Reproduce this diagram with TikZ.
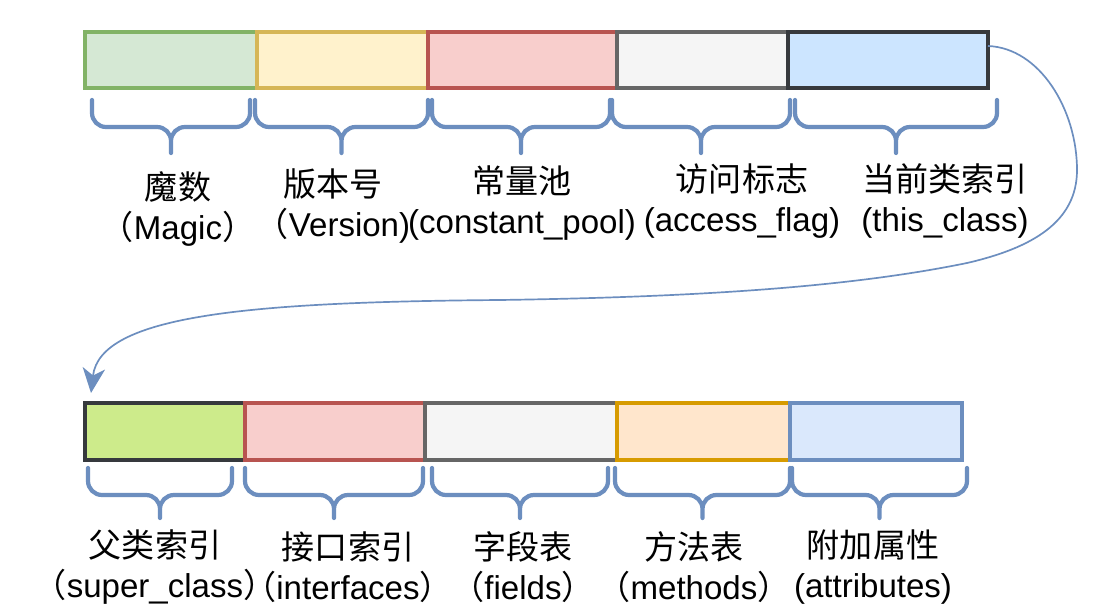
\documentclass[tikz,border=0pt]{standalone}
\usepackage{fontspec}
\setmainfont{Liberation Sans}
\newfontfamily\cjk{Noto Sans CJK SC}
\usetikzlibrary{arrows.meta,calc}

% draw.io palette
\definecolor{greenF}{HTML}{D5E8D4}\definecolor{greenS}{HTML}{82B366}
\definecolor{yellowF}{HTML}{FFF2CC}\definecolor{yellowS}{HTML}{D6B656}
\definecolor{redF}{HTML}{F8CECC}\definecolor{redS}{HTML}{B85450}
\definecolor{grayF}{HTML}{F5F5F5}\definecolor{grayS}{HTML}{666666}
\definecolor{skyF}{HTML}{CCE5FF}\definecolor{darkS}{HTML}{36393D}
\definecolor{limeF}{HTML}{CDEB8B}
\definecolor{orangeF}{HTML}{FFE6CC}\definecolor{orangeS}{HTML}{D79B00}
\definecolor{blueF}{HTML}{DAE8FC}\definecolor{blueS}{HTML}{6C8EBF}

\newcommand{\zlp}{{\cjk （}}
\newcommand{\zrp}{{\cjk ）}}
\def\pxu{0.025cm}

\begin{document}
\begin{tikzpicture}[
  x=0.025cm, y=-0.025cm,
  font=\fontsize{23.5pt}{28.5pt}\selectfont,
  field/.style={draw, line width=3pt, anchor=north west, inner sep=0pt, outer sep=0pt, minimum height=#1*\pxu},
  bracket/.style={draw=blueS, line width=3pt, rounded corners=0.35cm, line cap=round},
  fieldname/.style={align=center, inner sep=0pt},
  link/.style={draw=blueS, line width=1.2pt, -{Stealth[length=6.2mm,width=5.6mm,inset=1.8mm]}}
]
\useasboundingbox (0,0) rectangle (1116,610);
\fill[white] (0,0) rectangle (1116,610);

% ----- Row 1
\node[field=56, fill=greenF, draw=greenS, minimum width=172*\pxu] (magic) at (85,32) {};
\node[field=56, fill=yellowF, draw=yellowS, minimum width=171*\pxu] (version) at (257,32) {};
\node[field=56, fill=redF, draw=redS, minimum width=189*\pxu] (cpool) at (428,32) {};
\node[field=56, fill=grayF, draw=grayS, minimum width=171*\pxu] (access) at (617,32) {};
\node[field=56, fill=skyF, draw=darkS, minimum width=200*\pxu] (thiscls) at (788,32) {};

% ----- Row 2
\node[field=57, fill=limeF, draw=darkS, minimum width=160*\pxu] (super) at (85,403) {};
\node[field=57, fill=redF, draw=redS, minimum width=180*\pxu] (iface) at (245,403) {};
\node[field=57, fill=grayF, draw=grayS, minimum width=192*\pxu] (fields) at (425,403) {};
\node[field=57, fill=orangeF, draw=orangeS, minimum width=173*\pxu] (methods) at (617,403) {};
\node[field=57, fill=blueF, draw=blueS, minimum width=172*\pxu] (attrs) at (790,403) {};

% ----- Curly brackets under the fields
\foreach \xa/\xb in {92/250,255/428,432/610,612/790,795/997}
  \draw[bracket] (\xa,100) -- (\xa,127) -- ({(\xa+\xb)/2},127) -- ({(\xa+\xb)/2},153)
                 (\xb,100) -- (\xb,127) -- ({(\xa+\xb)/2},127) -- ({(\xa+\xb)/2},153);
\foreach \xa/\xb in {88/232,245/423,432/608,615/790,792/967}
  \draw[bracket] (\xa,468) -- (\xa,495) -- ({(\xa+\xb)/2},495) -- ({(\xa+\xb)/2},518)
                 (\xb,468) -- (\xb,495) -- ({(\xa+\xb)/2},495) -- ({(\xa+\xb)/2},518);

% ----- Field names
\node[fieldname] (magicname) at (178,209) {{\cjk 魔数}\\\zlp Magic\zrp};
\node[fieldname] (versionname) at (333,206) {{\cjk 版本号}\\\zlp Version)};
\node[fieldname] (cpoolname) at (522,203) {{\cjk 常量池}\\(constant\_pool)};
\node[fieldname] (accessname) at (742,201) {{\cjk 访问标志}\\(access\_flag)};
\node[fieldname] (thisclsname) at (945,201) {{\cjk 当前类索引}\\(this\_class)};

\node[fieldname] (supername) at (155,567) {{\cjk 父类索引}\\\zlp super\_class\zrp};
\node[fieldname] (ifacename) at (348,567) {{\cjk 接口索引}\\\zlp interfaces\zrp};
\node[fieldname] (fieldsname) at (523,567) {{\cjk 字段表}\\\zlp fields\zrp};
\node[fieldname] (methodsname) at (694,567) {{\cjk 方法表}\\\zlp methods\zrp};
\node[fieldname] (attrsname) at (873,567) {{\cjk 附加属性}\\(attributes)};

% ----- this_class continues in the second row
\coordinate (linkstart) at ($(thiscls.east)!0.5!(thiscls.north east)$);
\coordinate (linkend) at ($(super.north west)+(6,-10)$);
\draw[link] (linkstart) .. controls (1040,48) and (1077,110) .. (1077,170)
  .. controls (1077,222) and (1032,248) .. (967,263)
  .. controls (850,287) and (700,297) .. (500,300)
  .. controls (250,302) and (100,315) .. (linkend);

\end{tikzpicture}
\end{document}
